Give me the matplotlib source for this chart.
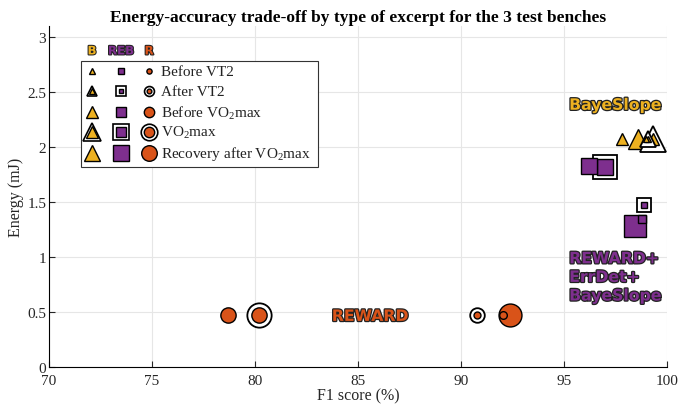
import matplotlib
matplotlib.use("Agg")
import matplotlib.pyplot as plt
import matplotlib.patches as patches
import matplotlib.patheffects as pe

plt.rcParams['font.family'] = ['Liberation Serif', 'DejaVu Serif']
plt.rcParams['mathtext.fontset'] = 'custom'
plt.rcParams['mathtext.rm'] = 'Liberation Serif'
plt.rcParams['mathtext.default'] = 'regular'

# --- data ---
tipos = ['Before VT2', 'After VT2', 'Before VO$_2$max', 'VO$_2$max', 'Recovery after VO$_2$max']

reward_f1 = [92.05, 90.8, 78.7, 80.2, 92.4]
reward_energia = [0.47, 0.47, 0.47, 0.47, 0.47]

reb_f1 = [98.8, 98.9, 96.2, 97.0, 98.45]
reb_energia = [1.35, 1.47, 1.83, 1.82, 1.28]

baye_f1 = [99.0, 99.1, 97.8, 99.3, 98.6]
baye_energia = [2.07, 2.07, 2.07, 2.07, 2.07]

cabecalhos = ['B', 'REB', 'R']

# estilos
cor_b = '#EDB120'
cor_reb = '#7E2F8E'
cor_r = '#D95319'
tam_interno = [5.5, 5, 11, 11, 16.5]
tam_anel = [None, 10.5, None, 17.5, None]

fig = plt.figure(figsize=(6.78, 4.10), dpi=100)
ax = fig.add_axes([0.0723, 0.1024, 0.9115, 0.8316])

# (x, y, marcador, cor, escala interna, escala do anel)
series = [
    (baye_f1, baye_energia, '^', cor_b, 0.85, 1.05),
    (reb_f1, reb_energia, 's', cor_reb, 1.0, 1.0),
    (reward_f1, reward_energia, 'o', cor_r, 1.0, 1.0),
]

# desenha na ordem inversa (grandes atras, pequenos na frente)
for xs, ys, mk, cor, esc, esc_anel in series:
    for i in reversed(range(len(tipos))):
        if tam_anel[i]:
            ax.plot(xs[i], ys[i], mk, markersize=tam_anel[i] * esc_anel, markerfacecolor='white',
                    markeredgecolor='black', markeredgewidth=1.3, zorder=3)
        ax.plot(xs[i], ys[i], mk, markersize=tam_interno[i] * esc, markerfacecolor=cor,
                markeredgecolor='black', markeredgewidth=1.0, zorder=3)

# rotulos das bancadas
contorno = [pe.withStroke(linewidth=1.8, foreground='#222222')]
ax.text(97.5, 2.38, 'BayeSlope', color=cor_b, fontsize=11.3, fontweight='bold',
        family='DejaVu Sans', ha='center', va='center', path_effects=contorno, zorder=4)
ax.text(95.25, 0.815, 'REWARD+\nErrDet+\nBayeSlope', color=cor_reb, fontsize=11.3,
        fontweight='bold', family='DejaVu Sans', ha='left', va='center',
        linespacing=1.3, path_effects=contorno, zorder=4)
ax.text(85.6, 0.46, 'REWARD', color=cor_r, fontsize=11.3, fontweight='bold',
        family='DejaVu Sans', ha='center', va='center', path_effects=contorno, zorder=4)

# legenda feita a mao
leg = patches.Rectangle((0.052, 0.587), 0.383, 0.31, transform=ax.transAxes,
                        facecolor='white', edgecolor='#333333', linewidth=0.8, zorder=5)
ax.add_patch(leg)
col_x = [0.0696, 0.1165, 0.162]
lin_y = [0.868, 0.809, 0.748, 0.689, 0.628]
marcadores = ['^', 's', 'o']
cores = [cor_b, cor_reb, cor_r]
esc_leg = [0.74, 0.68, 0.68]
for j in range(3):
    for i in range(len(tipos)):
        e = esc_leg[j]
        if tam_anel[i]:
            ax.plot(col_x[j], lin_y[i], marcadores[j], markersize=tam_anel[i] * e,
                    markerfacecolor='white', markeredgecolor='black', markeredgewidth=1.2,
                    transform=ax.transAxes, clip_on=False, zorder=6)
        ax.plot(col_x[j], lin_y[i], marcadores[j], markersize=tam_interno[i] * e,
                markerfacecolor=cores[j], markeredgecolor='black', markeredgewidth=1.0,
                transform=ax.transAxes, clip_on=False, zorder=6)
    ax.text(col_x[j], 0.927, cabecalhos[j], color=cores[j], fontsize=8.5, fontweight='bold',
            family='DejaVu Sans', ha='center', va='center', transform=ax.transAxes,
            path_effects=[pe.withStroke(linewidth=1.5, foreground='#222222')], zorder=6)
for i in range(len(tipos)):
    ax.text(0.181, lin_y[i], tipos[i], fontsize=11, color='#222222', ha='left',
            va='center', transform=ax.transAxes, zorder=6)

# eixos
ax.set_xlim(70, 100)
ax.set_ylim(0, 3.1)
ax.set_xticks([70, 75, 80, 85, 90, 95, 100])
ax.set_yticks([0, 0.5, 1, 1.5, 2, 2.5, 3])
ax.set_yticklabels(['0', '0.5', '1', '1.5', '2', '2.5', '3'])
ax.grid(True, color='#e6e6e6', linewidth=0.8, zorder=0)
ax.set_axisbelow(True)
ax.spines['top'].set_visible(False)
ax.spines['right'].set_visible(False)
ax.tick_params(direction='in', length=4, labelsize=11, colors='#262626')
ax.tick_params(axis='x', pad=5)
ax.tick_params(axis='y', pad=2)
ax.set_xlabel('F1 score (%)', fontsize=11.5, color='#262626', labelpad=0)
ax.set_ylabel('Energy (mJ)', fontsize=11.5, color='#262626', labelpad=2)

fig.text(0.528, 0.957, 'Energy-accuracy trade-off by type of excerpt for the 3 test benches',
         fontsize=12.5, fontweight='bold', ha='center', va='center')

fig.savefig('out.png', dpi=100)
